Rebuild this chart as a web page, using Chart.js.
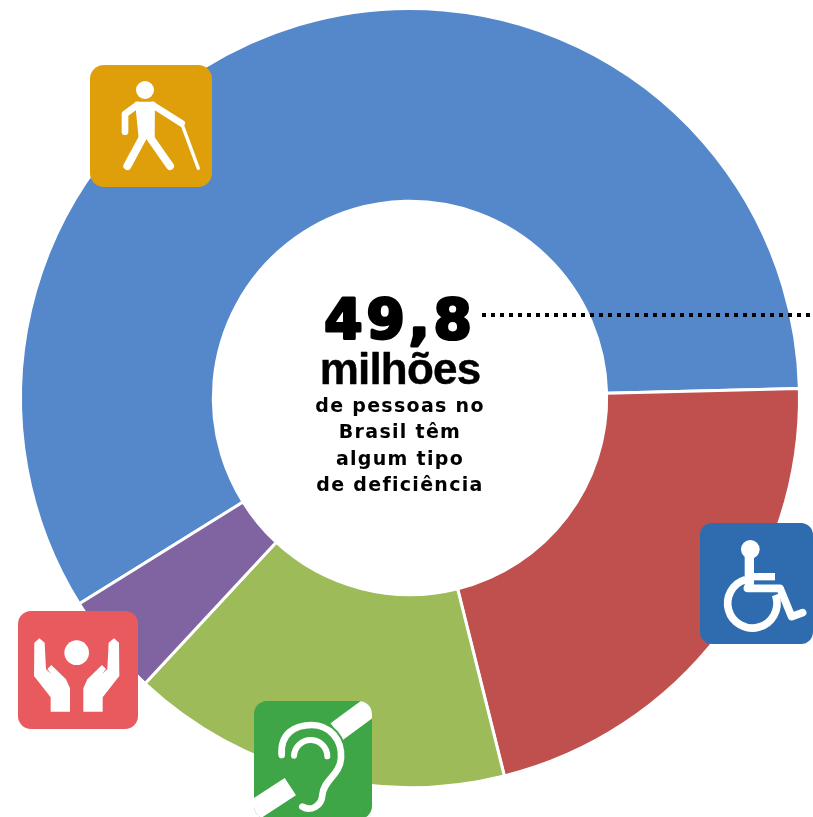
<!DOCTYPE html>
<html><head><meta charset="utf-8">
<style>html,body{margin:0;padding:0;background:#fff;overflow:hidden}#w{width:813px;height:817px;position:relative}</style>
<script src="https://cdn.jsdelivr.net/npm/chart.js@4"></script></head>
<body><div id="w"><canvas id="c" width="813" height="817"></canvas></div>
<script>
const categories = ["Visual", "Motora", "Auditiva", "Intelectual"];
const seriesValues = [35.9, 13.2, 9.7, 2.6];
const sliceColors = ["#5588CA", "#BF504D", "#9DBB59", "#8064A2"];
const headline = "49,8";
const unitLabel = "milhões";
const captionLines = ["de pessoas no", "Brasil têm", "algum tipo", "de deficiência"];

function rr(ctx,x,y,w,h,r,fill){ctx.beginPath();ctx.roundRect(x,y,w,h,r);ctx.fillStyle=fill;ctx.fill();}
function line(ctx,pts,lw,cap){ctx.beginPath();pts.forEach((p,i)=>i?ctx.lineTo(p[0],p[1]):ctx.moveTo(p[0],p[1]));ctx.lineWidth=lw;ctx.lineCap=cap||'round';ctx.lineJoin='round';ctx.stroke();}
function circle(ctx,x,y,r){ctx.beginPath();ctx.arc(x,y,r,0,Math.PI*2);ctx.fill();}
function poly(ctx,pts){ctx.beginPath();pts.forEach((p,i)=>i?ctx.lineTo(p[0],p[1]):ctx.moveTo(p[0],p[1]));ctx.closePath();ctx.fill();}

function walker(ctx){
  rr(ctx,90,65,122,122,14,"#DE9F0B");
  ctx.save();ctx.translate(80,55);ctx.scale(1/3,1/3);ctx.strokeStyle=ctx.fillStyle="#fff";
  circle(ctx,195,105,27);
  poly(ctx,[[165,140],[225,140],[224,250],[176,250]]);
  line(ctx,[[172,150],[135,177],[135,230]],20);
  line(ctx,[[218,150],[305,205]],20);
  line(ctx,[[305,205],[355,340]],10);
  line(ctx,[[195,235],[142,333]],24);
  line(ctx,[[205,240],[270,333]],24);
  ctx.restore();
}
function wheelchair(ctx){
  rr(ctx,700,523,113,121,12,"#2F6CAF");
  ctx.save();ctx.translate(690,510);ctx.scale(1/3,1/3);ctx.strokeStyle=ctx.fillStyle="#fff";
  circle(ctx,181,118,28);
  line(ctx,[[178,130],[178,228]],28,'butt');
  line(ctx,[[178,200],[255,200]],22,'butt');
  line(ctx,[[172,235],[270,235],[305,320],[338,308]],23);
  ctx.beginPath();ctx.arc(187,280,74,-1.85,-Math.PI*2-0.35,true);ctx.lineWidth=23;ctx.lineCap='butt';ctx.stroke();
  ctx.restore();
}
function hands(ctx){
  rr(ctx,18,611,120,118,13,"#E85A5E");
  ctx.save();ctx.translate(10,600);ctx.scale(1/3,1/3);ctx.fillStyle=ctx.strokeStyle="#fff";
  circle(ctx,200,158,37);
  const h=[[73,128],[88,115],[104,128],[108,208],[124,222],[112,207],[124,195],[168,238],[180,265],[180,335],[122,335],[122,292],[72,228]];
  poly(ctx,h);
  poly(ctx,h.map(p=>[400-p[0],p[1]]));
  ctx.restore();
}
function ear(ctx){
  rr(ctx,254,701,118,118,13,"#3FA648");
  ctx.save();ctx.beginPath();ctx.roundRect(254,701,118,118,13);ctx.clip();
  ctx.translate(245,690);ctx.scale(1/3,1/3);ctx.strokeStyle="#fff";
  line(ctx,[[10,372],[136,290]],62,'butt');
  line(ctx,[[275,125],[390,40]],62,'butt');
  const drawEar=(lw)=>{
    ctx.beginPath();ctx.moveTo(110,195);
    ctx.bezierCurveTo(105,130,150,105,200,105);
    ctx.bezierCurveTo(255,105,292,150,288,205);
    ctx.bezierCurveTo(285,255,235,270,232,315);
    ctx.bezierCurveTo(230,350,195,365,172,350);
    ctx.lineWidth=lw;ctx.lineCap='round';ctx.stroke();
  };
  ctx.strokeStyle="#3FA648";drawEar(32);
  ctx.strokeStyle="#fff";drawEar(20);
  ctx.beginPath();ctx.arc(197,200,50,Math.PI*1.02,-0.02);ctx.lineWidth=18;ctx.lineCap='round';ctx.stroke();
  ctx.restore();
}
function label(ctx,t,y,lw){ctx.lineWidth=lw;ctx.lineJoin='round';ctx.strokeStyle="#000";if(lw)ctx.strokeText(t,400,y);ctx.fillText(t,400,y);}
const overlay={id:'overlay',afterDraw(chart){
  const ctx=chart.ctx;ctx.save();
  ctx.filter='blur(0.6px)';
  walker(ctx);wheelchair(ctx);hands(ctx);ear(ctx);
  ctx.fillStyle="#000";ctx.textAlign="center";ctx.textBaseline="alphabetic";
  ctx.font='bold 55px "DejaVu Sans"';ctx.letterSpacing="4px";label(ctx,headline,338,3);
  ctx.font='bold 44px "Liberation Sans"';ctx.letterSpacing="-0.8px";label(ctx,unitLabel,384,0.4);
  ctx.font='bold 19px "DejaVu Sans"';ctx.letterSpacing="1.3px";
  [412,438,465,491].forEach((y,i)=>label(ctx,captionLines[i],y,0));
  ctx.letterSpacing="0px";
  ctx.filter='none';
  ctx.strokeStyle="#000";ctx.setLineDash([4,5]);ctx.lineWidth=4;ctx.lineCap='butt';
  ctx.beginPath();ctx.moveTo(482,315);ctx.lineTo(813,315);ctx.stroke();ctx.setLineDash([]);
  ctx.restore();
}};
new Chart(document.getElementById('c'),{
  type:'doughnut',
  data:{labels:categories,datasets:[{data:seriesValues,backgroundColor:sliceColors,borderColor:"#fff",borderWidth:3}]},
  options:{responsive:false,animation:false,rotation:238.1,cutout:'50.5%',
    layout:{padding:{left:19,right:12,top:6,bottom:27}},
    plugins:{legend:{display:false},tooltip:{enabled:false}},events:[]},
  plugins:[overlay]
});
</script></body></html>
